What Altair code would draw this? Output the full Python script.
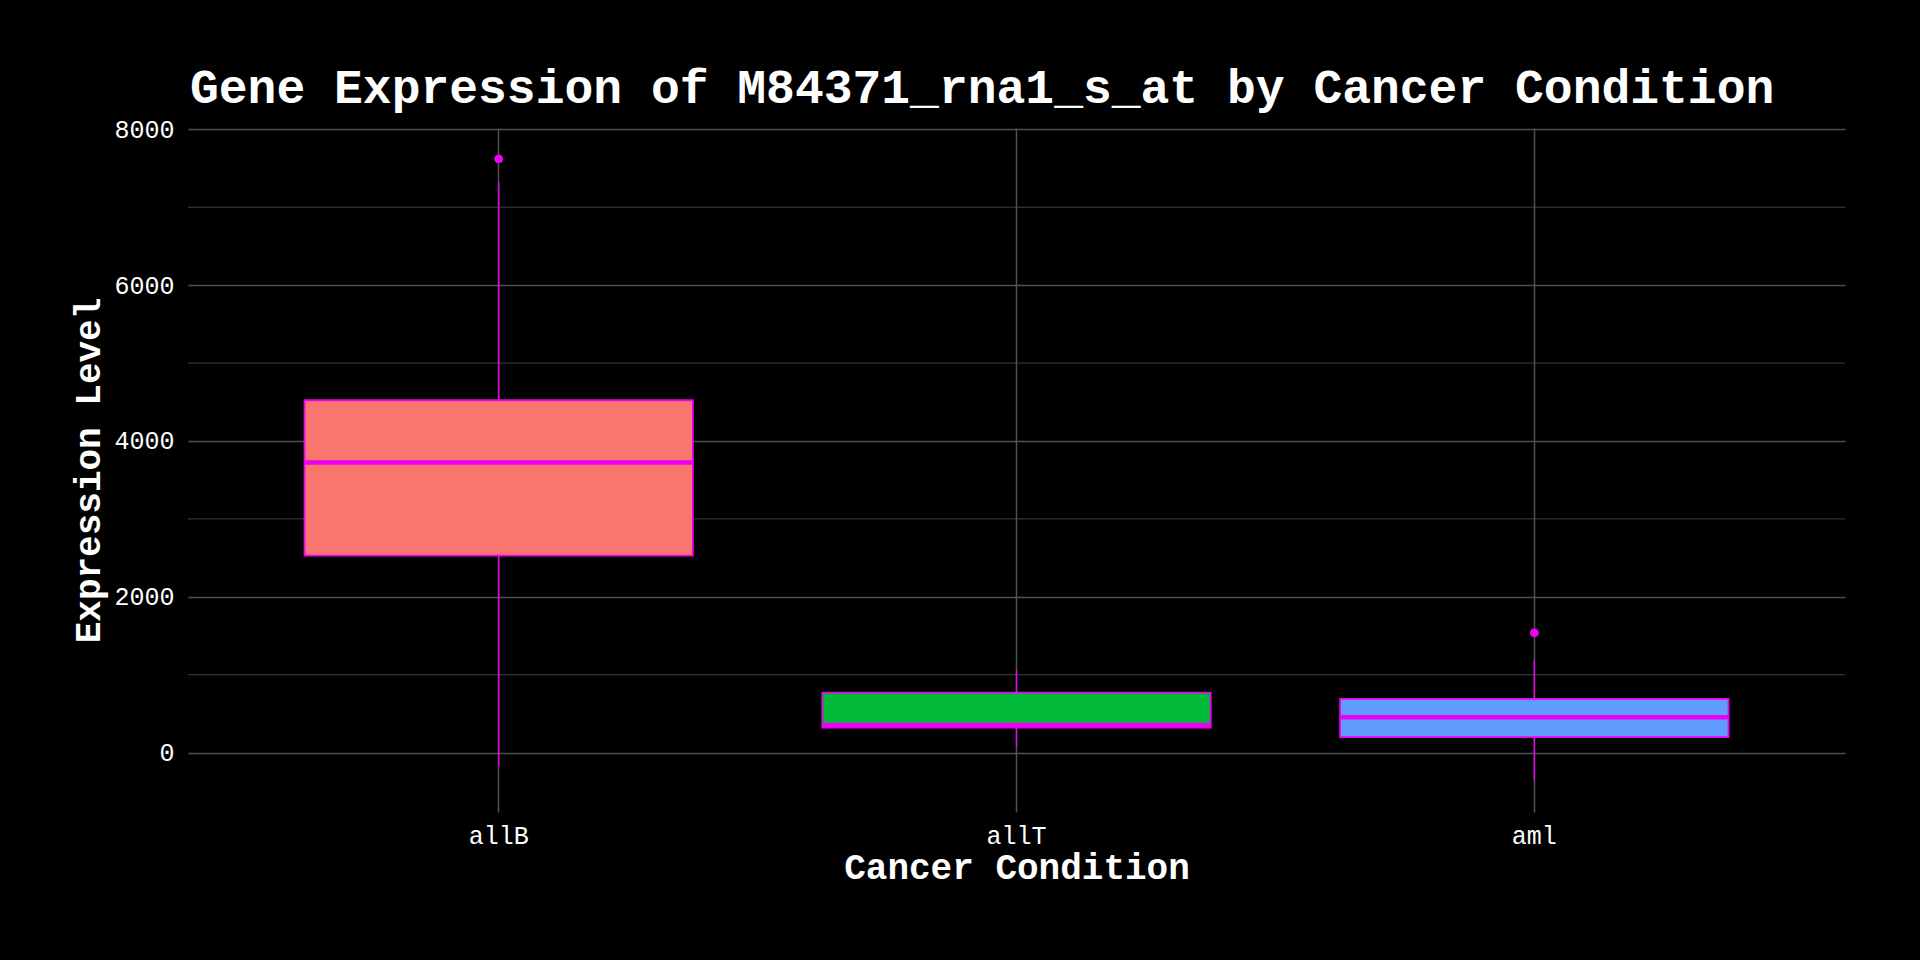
import altair as alt
import pandas as pd

# ---- data ----
conditions = ["allB", "allT", "aml"]
lower_whisker = [-175, 77, -363]
q1 = [2528, 321, 198]
median = [3724, 355, 454]
q3 = [4523, 770, 689]
upper_whisker = [7317, 1062, 1190]
fill_colors = ["#F8766D", "#00BA38", "#619CFF"]

outlier_condition = ["allB", "aml"]
outlier_value = [7621, 1537]

major_breaks = [0, 2000, 4000, 6000, 8000]
minor_breaks = [1000, 3000, 5000, 7000]

box_df = pd.DataFrame({
    "condition": conditions,
    "lower": lower_whisker,
    "q1": q1,
    "median": median,
    "q3": q3,
    "upper": upper_whisker,
})
out_df = pd.DataFrame({"condition": outlier_condition, "value": outlier_value})
minor_df = pd.DataFrame({"v": minor_breaks})

FONT = "Liberation Mono"
MAG = "#EE00F2"
GRID = "#505050"

W, H = 1657, 684

xscale = alt.Scale(domain=conditions, paddingInner=0.25, paddingOuter=0.225)
yscale = alt.Scale(domain=[-762, 8017], nice=False, zero=False)

xaxis = alt.Axis(
    title="Cancer Condition", labelAngle=0, grid=True, gridColor=GRID, gridWidth=1.5,
    domain=False, ticks=False, bandPosition=0.5,
    labelColor="white", labelFont=FONT, labelFontSize=25,
    labelBaseline="alphabetic", labelPadding=31,
    titleColor="white", titleFont=FONT, titleFontSize=36, titleFontWeight="bold",
    titleBaseline="alphabetic", titleX=W / 2, titleY=66,
)
yaxis = alt.Axis(
    title="Expression Level", values=major_breaks, grid=True, gridColor=GRID, gridWidth=1.5,
    domain=False, ticks=False, labelColor="white", labelFont=FONT, labelFontSize=25,
    labelPadding=14, format="d",
    titleColor="white", titleFont=FONT, titleFontSize=36, titleFontWeight="bold",
    titleAngle=270, titleBaseline="alphabetic", titleAlign="center",
    titleX=-89, titleY=H / 2,
)

minor = alt.Chart(minor_df).mark_rule(color=GRID, strokeWidth=0.8).encode(
    y=alt.Y("v:Q", scale=yscale, axis=yaxis)
)

base = alt.Chart(box_df)

whisk = base.mark_rule(color=MAG, strokeWidth=1.4).encode(
    x=alt.X("condition:N", scale=xscale, axis=xaxis),
    y=alt.Y("lower:Q", scale=yscale),
    y2="upper:Q",
)

box = base.mark_bar(stroke=MAG, strokeWidth=1.8).encode(
    x=alt.X("condition:N", scale=xscale, axis=xaxis),
    y=alt.Y("q1:Q", scale=yscale),
    y2="q3:Q",
    fill=alt.Fill("condition:N", scale=alt.Scale(domain=conditions, range=fill_colors), legend=None),
)

med = base.mark_tick(color=MAG, thickness=4.5, size=388, opacity=1).encode(
    x=alt.X("condition:N", scale=xscale, axis=xaxis),
    y=alt.Y("median:Q", scale=yscale),
)

pts = alt.Chart(out_df).mark_circle(color=MAG, size=80, opacity=1).encode(
    x=alt.X("condition:N", scale=xscale, axis=xaxis),
    y=alt.Y("value:Q", scale=yscale),
)

chart = alt.layer(minor, whisk, box, med, pts).properties(
    width=W, height=H,
    title=alt.TitleParams(
        "Gene Expression of M84371_rna1_s_at by Cancer Condition",
        anchor="start", frame="group", font=FONT, fontSize=48, fontWeight="bold",
        color="white", baseline="alphabetic", offset=23, dy=57, dx=2,
    ),
    autosize=alt.AutoSizeParams(type="none"),
    padding={"left": 188, "top": 128, "right": 75, "bottom": 148},
    background="black",
).configure_view(stroke=None)

chart.save("out.html", embed_options={"renderer": "svg", "actions": False})
